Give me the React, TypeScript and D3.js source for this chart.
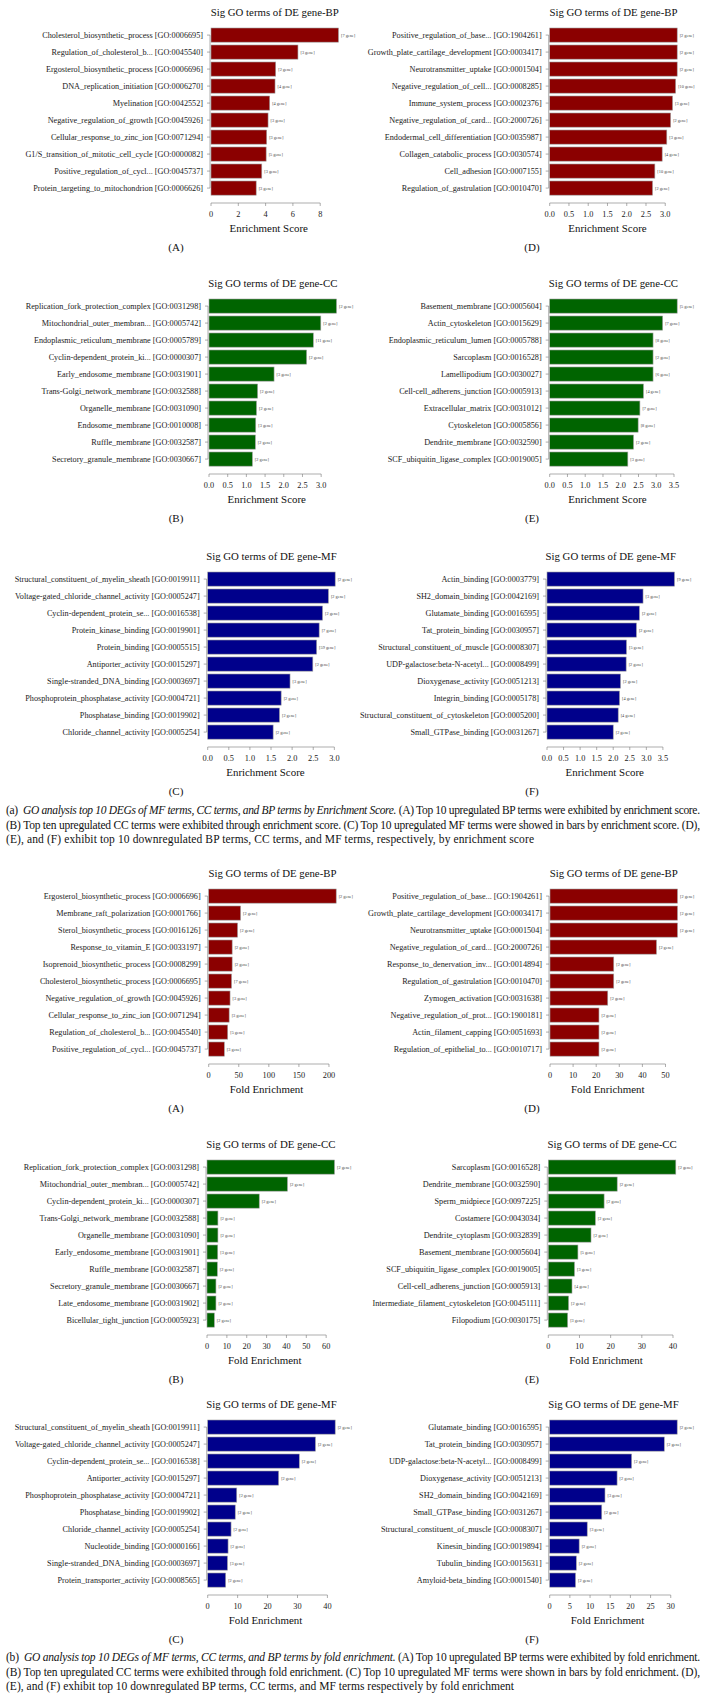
import React, { useEffect, useRef } from 'react';
import * as d3 from 'd3';

// ---- enrichment score, BP up (A) ----
const esBpUpTerms = [
  'Cholesterol_biosynthetic_process [GO:0006695]',
  'Regulation_of_cholesterol_b... [GO:0045540]',
  'Ergosterol_biosynthetic_process [GO:0006696]',
  'DNA_replication_initiation [GO:0006270]',
  'Myelination [GO:0042552]',
  'Negative_regulation_of_growth [GO:0045926]',
  'Cellular_response_to_zinc_ion [GO:0071294]',
  'G1/S_transition_of_mitotic_cell_cycle [GO:0000082]',
  'Positive_regulation_of_cycl... [GO:0045737]',
  'Protein_targeting_to_mitochondrion [GO:0006626]',
];
const esBpUpValues = [9.34, 6.37, 4.74, 4.69, 4.3, 4.18, 4.08, 4.04, 3.72, 3.31];
const esBpUpGenes = [7, 3, 2, 4, 4, 3, 3, 5, 3, 3];
const esBpUpTicks = [0, 2, 4, 6, 8];

// ---- enrichment score, BP down (D) ----
const esBpDownTerms = [
  'Positive_regulation_of_base... [GO:1904261]',
  'Growth_plate_cartilage_development [GO:0003417]',
  'Neurotransmitter_uptake [GO:0001504]',
  'Negative_regulation_of_cell... [GO:0008285]',
  'Immune_system_process [GO:0002376]',
  'Negative_regulation_of_card... [GO:2000726]',
  'Endodermal_cell_differentiation [GO:0035987]',
  'Collagen_catabolic_process [GO:0030574]',
  'Cell_adhesion [GO:0007155]',
  'Regulation_of_gastrulation [GO:0010470]',
];
const esBpDownValues = [3.31, 3.31, 3.31, 3.27, 3.19, 3.14, 3.04, 2.92, 2.73, 2.67];
const esBpDownGenes = [2, 2, 2, 10, 3, 2, 3, 4, 10, 2];
const esBpDownTicks = [0, 0.5, 1, 1.5, 2, 2.5, 3];

// ---- enrichment score, CC up (B) ----
const esCcUpTerms = [
  'Replication_fork_protection_complex [GO:0031298]',
  'Mitochondrial_outer_membran... [GO:0005742]',
  'Endoplasmic_reticulum_membrane [GO:0005789]',
  'Cyclin-dependent_protein_ki... [GO:0000307]',
  'Early_endosome_membrane [GO:0031901]',
  'Trans-Golgi_network_membrane [GO:0032588]',
  'Organelle_membrane [GO:0031090]',
  'Endosome_membrane [GO:0010008]',
  'Ruffle_membrane [GO:0032587]',
  'Secretory_granule_membrane [GO:0030667]',
];
const esCcUpValues = [3.41, 2.99, 2.79, 2.61, 1.74, 1.3, 1.27, 1.25, 1.24, 1.16];
const esCcUpGenes = [2, 2, 11, 2, 3, 2, 2, 3, 2, 2];
const esCcUpTicks = [0, 0.5, 1, 1.5, 2, 2.5, 3];

// ---- enrichment score, CC down (E) ----
const esCcDownTerms = [
  'Basement_membrane [GO:0005604]',
  'Actin_cytoskeleton [GO:0015629]',
  'Endoplasmic_reticulum_lumen [GO:0005788]',
  'Sarcoplasm [GO:0016528]',
  'Lamellipodium [GO:0030027]',
  'Cell-cell_adherens_junction [GO:0005913]',
  'Extracellular_matrix [GO:0031012]',
  'Cytoskeleton [GO:0005856]',
  'Dendrite_membrane [GO:0032590]',
  'SCF_ubiquitin_ligase_complex [GO:0019005]',
];
const esCcDownValues = [3.59, 3.18, 2.91, 2.91, 2.91, 2.64, 2.54, 2.49, 2.36, 2.2];
const esCcDownGenes = [5, 7, 8, 2, 6, 4, 7, 8, 2, 3];
const esCcDownTicks = [0, 0.5, 1, 1.5, 2, 2.5, 3, 3.5];

// ---- enrichment score, MF up (C) ----
const esMfUpTerms = [
  'Structural_constituent_of_myelin_sheath [GO:0019911]',
  'Voltage-gated_chloride_channel_activity [GO:0005247]',
  'Cyclin-dependent_protein_se... [GO:0016538]',
  'Protein_kinase_binding [GO:0019901]',
  'Protein_binding [GO:0005515]',
  'Antiporter_activity [GO:0015297]',
  'Single-stranded_DNA_binding [GO:0003697]',
  'Phosphoprotein_phosphatase_activity [GO:0004721]',
  'Phosphatase_binding [GO:0019902]',
  'Chloride_channel_activity [GO:0005254]',
];
const esMfUpValues = [3.02, 2.86, 2.72, 2.64, 2.58, 2.49, 1.95, 1.74, 1.7, 1.55];
const esMfUpGenes = [2, 2, 2, 7, 59, 2, 3, 2, 2, 2];
const esMfUpTicks = [0, 0.5, 1, 1.5, 2, 2.5, 3];

// ---- enrichment score, MF down (F) ----
const esMfDownTerms = [
  'Actin_binding [GO:0003779]',
  'SH2_domain_binding [GO:0042169]',
  'Glutamate_binding [GO:0016595]',
  'Tat_protein_binding [GO:0030957]',
  'Structural_constituent_of_muscle [GO:0008307]',
  'UDP-galactose:beta-N-acetyl... [GO:0008499]',
  'Dioxygenase_activity [GO:0051213]',
  'Integrin_binding [GO:0005178]',
  'Structural_constituent_of_cytoskeleton [GO:0005200]',
  'Small_GTPase_binding [GO:0031267]',
];
const esMfDownValues = [3.85, 2.9, 2.79, 2.7, 2.4, 2.39, 2.22, 2.19, 2.15, 2.0];
const esMfDownGenes = [9, 3, 2, 2, 5, 2, 2, 4, 4, 2];
const esMfDownTicks = [0, 0.5, 1, 1.5, 2, 2.5, 3, 3.5];

// ---- fold enrichment, BP up (A) ----
const feBpUpTerms = [
  'Ergosterol_biosynthetic_process [GO:0006696]',
  'Membrane_raft_polarization [GO:0001766]',
  'Sterol_biosynthetic_process [GO:0016126]',
  'Response_to_vitamin_E [GO:0033197]',
  'Isoprenoid_biosynthetic_process [GO:0008299]',
  'Cholesterol_biosynthetic_process [GO:0006695]',
  'Negative_regulation_of_growth [GO:0045926]',
  'Cellular_response_to_zinc_ion [GO:0071294]',
  'Regulation_of_cholesterol_b... [GO:0045540]',
  'Positive_regulation_of_cycl... [GO:0045737]',
];
const feBpUpValues = [212, 53, 48, 39, 39, 38, 35.5, 34, 31.6, 26];
const feBpUpGenes = [2, 2, 2, 2, 2, 7, 3, 3, 5, 3];
const feBpUpTicks = [0, 50, 100, 150, 200];

// ---- fold enrichment, BP down (D) ----
const feBpDownTerms = [
  'Positive_regulation_of_base... [GO:1904261]',
  'Growth_plate_cartilage_development [GO:0003417]',
  'Neurotransmitter_uptake [GO:0001504]',
  'Negative_regulation_of_card... [GO:2000726]',
  'Response_to_denervation_inv... [GO:0014894]',
  'Regulation_of_gastrulation [GO:0010470]',
  'Zymogen_activation [GO:0031638]',
  'Negative_regulation_of_prot... [GO:1900181]',
  'Actin_filament_capping [GO:0051693]',
  'Regulation_of_epithelial_to... [GO:0010717]',
];
const feBpDownValues = [55.2, 55.2, 55.2, 46.1, 27.6, 27.6, 25.0, 21.2, 21.2, 21.2];
const feBpDownGenes = [2, 2, 2, 2, 2, 2, 2, 2, 2, 2];
const feBpDownTicks = [0, 10, 20, 30, 40, 50];

// ---- fold enrichment, CC up (B) ----
const feCcUpTerms = [
  'Replication_fork_protection_complex [GO:0031298]',
  'Mitochondrial_outer_membran... [GO:0005742]',
  'Cyclin-dependent_protein_ki... [GO:0000307]',
  'Trans-Golgi_network_membrane [GO:0032588]',
  'Organelle_membrane [GO:0031090]',
  'Early_endosome_membrane [GO:0031901]',
  'Ruffle_membrane [GO:0032587]',
  'Secretory_granule_membrane [GO:0030667]',
  'Late_endosome_membrane [GO:0031902]',
  'Bicellular_tight_junction [GO:0005923]',
];
const feCcUpValues = [64.2, 40.5, 26.3, 5.5, 5.5, 5.4, 5.2, 4.5, 4.5, 3.7];
const feCcUpGenes = [2, 2, 2, 2, 2, 3, 2, 2, 2, 2];
const feCcUpTicks = [0, 10, 20, 30, 40, 50, 60];

// ---- fold enrichment, CC down (E) ----
const feCcDownTerms = [
  'Sarcoplasm [GO:0016528]',
  'Dendrite_membrane [GO:0032590]',
  'Sperm_midpiece [GO:0097225]',
  'Costamere [GO:0043034]',
  'Dendrite_cytoplasm [GO:0032839]',
  'Basement_membrane [GO:0005604]',
  'SCF_ubiquitin_ligase_complex [GO:0019005]',
  'Cell-cell_adherens_junction [GO:0005913]',
  'Intermediate_filament_cytoskeleton [GO:0045111]',
  'Filopodium [GO:0030175]',
];
const feCcDownValues = [40.9, 22.1, 17.9, 15.1, 13.7, 9.5, 8.4, 7.6, 6.5, 6.2];
const feCcDownGenes = [2, 2, 2, 2, 2, 5, 3, 4, 2, 3];
const feCcDownTicks = [0, 10, 20, 30, 40];

// ---- fold enrichment, MF up (C) ----
const feMfUpTerms = [
  'Structural_constituent_of_myelin_sheath [GO:0019911]',
  'Voltage-gated_chloride_channel_activity [GO:0005247]',
  'Cyclin-dependent_protein_se... [GO:0016538]',
  'Antiporter_activity [GO:0015297]',
  'Phosphoprotein_phosphatase_activity [GO:0004721]',
  'Phosphatase_binding [GO:0019902]',
  'Chloride_channel_activity [GO:0005254]',
  'Nucleotide_binding [GO:0000166]',
  'Single-stranded_DNA_binding [GO:0003697]',
  'Protein_transporter_activity [GO:0008565]',
];
const feMfUpValues = [42.6, 36.0, 30.6, 23.7, 9.7, 9.2, 7.8, 6.8, 6.6, 6.0];
const feMfUpGenes = [2, 2, 2, 2, 2, 2, 2, 2, 3, 2];
const feMfUpTicks = [0, 10, 20, 30, 40];

// ---- fold enrichment, MF down (F) ----
const feMfDownTerms = [
  'Glutamate_binding [GO:0016595]',
  'Tat_protein_binding [GO:0030957]',
  'UDP-galactose:beta-N-acetyl... [GO:0008499]',
  'Dioxygenase_activity [GO:0051213]',
  'SH2_domain_binding [GO:0042169]',
  'Small_GTPase_binding [GO:0031267]',
  'Structural_constituent_of_muscle [GO:0008307]',
  'Kinesin_binding [GO:0019894]',
  'Tubulin_binding [GO:0015631]',
  'Amyloid-beta_binding [GO:0001540]',
];
const feMfDownValues = [31.6, 28.4, 20.3, 16.7, 13.7, 12.9, 9.3, 7.3, 6.6, 6.4];
const feMfDownGenes = [2, 2, 2, 2, 3, 2, 3, 2, 2, 2];
const feMfDownTicks = [0, 5, 10, 15, 20, 25, 30];

const W = 705;
const H = 1706;
const FONT = "'Liberation Serif', 'Times New Roman', serif";
const PLOT_W = 127.5;
const PITCH = 17;
const RED = '#8b0000';
const GREEN = '#006400';
const BLUE = '#00008b';
const LEFT_MID = 176;
const RIGHT_MID = 532;

const panels = [
  { type: 'BP', color: RED, terms: esBpUpTerms, values: esBpUpValues, genes: esBpUpGenes, ticks: esBpUpTicks, fmt: 'd', axisTitle: 'Enrichment Score', letter: '(A)', x0: 211, top: 28, mid: LEFT_MID },
  { type: 'BP', color: RED, terms: esBpDownTerms, values: esBpDownValues, genes: esBpDownGenes, ticks: esBpDownTicks, fmt: '.1f', axisTitle: 'Enrichment Score', letter: '(D)', x0: 549.7, top: 28, mid: RIGHT_MID },
  { type: 'CC', color: GREEN, terms: esCcUpTerms, values: esCcUpValues, genes: esCcUpGenes, ticks: esCcUpTicks, fmt: '.1f', axisTitle: 'Enrichment Score', letter: '(B)', x0: 209, top: 299, mid: LEFT_MID },
  { type: 'CC', color: GREEN, terms: esCcDownTerms, values: esCcDownValues, genes: esCcDownGenes, ticks: esCcDownTicks, fmt: '.1f', axisTitle: 'Enrichment Score', letter: '(E)', x0: 549.7, top: 299, mid: RIGHT_MID },
  { type: 'MF', color: BLUE, terms: esMfUpTerms, values: esMfUpValues, genes: esMfUpGenes, ticks: esMfUpTicks, fmt: '.1f', axisTitle: 'Enrichment Score', letter: '(C)', x0: 207.7, top: 572, mid: LEFT_MID },
  { type: 'MF', color: BLUE, terms: esMfDownTerms, values: esMfDownValues, genes: esMfDownGenes, ticks: esMfDownTicks, fmt: '.1f', axisTitle: 'Enrichment Score', letter: '(F)', x0: 547, top: 572, mid: RIGHT_MID },
  { type: 'BP', color: RED, terms: feBpUpTerms, values: feBpUpValues, genes: feBpUpGenes, ticks: feBpUpTicks, fmt: 'd', axisTitle: 'Fold Enrichment', letter: '(A)', x0: 208.7, top: 889, mid: LEFT_MID },
  { type: 'BP', color: RED, terms: feBpDownTerms, values: feBpDownValues, genes: feBpDownGenes, ticks: feBpDownTicks, fmt: 'd', axisTitle: 'Fold Enrichment', letter: '(D)', x0: 550, top: 889, mid: RIGHT_MID },
  { type: 'CC', color: GREEN, terms: feCcUpTerms, values: feCcUpValues, genes: feCcUpGenes, ticks: feCcUpTicks, fmt: 'd', axisTitle: 'Fold Enrichment', letter: '(B)', x0: 207, top: 1160, mid: LEFT_MID },
  { type: 'CC', color: GREEN, terms: feCcDownTerms, values: feCcDownValues, genes: feCcDownGenes, ticks: feCcDownTicks, fmt: 'd', axisTitle: 'Fold Enrichment', letter: '(E)', x0: 548.3, top: 1160, mid: RIGHT_MID },
  { type: 'MF', color: BLUE, terms: feMfUpTerms, values: feMfUpValues, genes: feMfUpGenes, ticks: feMfUpTicks, fmt: 'd', axisTitle: 'Fold Enrichment', letter: '(C)', x0: 207.7, top: 1420, mid: LEFT_MID },
  { type: 'MF', color: BLUE, terms: feMfDownTerms, values: feMfDownValues, genes: feMfDownGenes, ticks: feMfDownTicks, fmt: 'd', axisTitle: 'Fold Enrichment', letter: '(F)', x0: 549.7, top: 1420, mid: RIGHT_MID },
];

// caption lines: [plain prefix, italic part, plain rest]
const captionA = [
  ['(a)  ', 'GO analysis top 10 DEGs of MF terms, CC terms, and BP terms by Enrichment Score.', ' (A) Top 10 upregulated BP terms were exhibited by enrichment score.'],
  ['', '', '(B) Top ten upregulated CC terms were exhibited through enrichment score. (C) Top 10 upregulated MF terms were showed in bars by enrichment score. (D),'],
  ['', '', '(E), and (F) exhibit top 10 downregulated BP terms, CC terms, and MF terms, respectively, by enrichment score'],
];
const captionB = [
  ['(b)  ', 'GO analysis top 10 DEGs of MF terms, CC terms, and BP terms by fold enrichment.', ' (A) Top 10 upregulated BP terms were exhibited by fold enrichment.'],
  ['', '', '(B) Top ten upregulated CC terms were exhibited through fold enrichment. (C) Top 10 upregulated MF terms were shown in bars by fold enrichment. (D),'],
  ['', '', '(E), and (F) exhibit top 10 downregulated BP terms, CC terms, and MF terms respectively by fold enrichment'],
];

function drawPanel(svg: any, p: any) {
  const g = svg.append('g').style('font-family', FONT);
  const x = d3.scaleLinear().domain([0, d3.max(p.values) as number]).range([p.x0, p.x0 + PLOT_W]);
  const gap = PITCH / 6;
  const y = d3.scaleBand()
    .domain(p.terms)
    .range([p.top, p.top + p.terms.length * PITCH - gap])
    .paddingInner(1 / 6)
    .paddingOuter(0);
  const rows = p.terms.map((t: string, i: number) => ({ term: t, value: p.values[i], genes: p.genes[i] }));
  const axisY = p.top + 175;
  const cx = p.x0 + PLOT_W / 2;
  const mid = (d: any) => (y(d.term) as number) + y.bandwidth() / 2;

  // title
  g.append('text')
    .attr('x', cx)
    .attr('y', p.top - 12)
    .attr('text-anchor', 'middle')
    .attr('font-size', 10.8)
    .attr('fill', '#111')
    .text(`Sig GO terms of DE gene-${p.type}`);

  // bars
  g.selectAll('rect.bar').data(rows).join('rect')
    .attr('class', 'bar')
    .attr('x', x(0))
    .attr('y', (d: any) => y(d.term))
    .attr('width', (d: any) => x(d.value) - x(0))
    .attr('height', y.bandwidth())
    .attr('fill', p.color)
    .attr('stroke', '#a0a0a0')
    .attr('stroke-width', 0.6);

  // gene counts
  g.selectAll('text.gene').data(rows).join('text')
    .attr('class', 'gene')
    .attr('x', (d: any) => x(d.value) + 2.5)
    .attr('y', (d: any) => mid(d) + 1.5)
    .attr('font-size', 4.3)
    .attr('fill', '#444')
    .text((d: any) => `[${d.genes} gene]`);

  // y axis
  g.append('line')
    .attr('x1', p.x0 - 1).attr('x2', p.x0 - 1)
    .attr('y1', mid(rows[0])).attr('y2', mid(rows[rows.length - 1]))
    .attr('stroke', '#777').attr('stroke-width', 0.6);
  g.selectAll('line.ytick').data(rows).join('line')
    .attr('class', 'ytick')
    .attr('x1', p.x0 - 4).attr('x2', p.x0 - 1)
    .attr('y1', mid).attr('y2', mid)
    .attr('stroke', '#777').attr('stroke-width', 0.6);
  g.selectAll('text.ylab').data(rows).join('text')
    .attr('class', 'ylab')
    .attr('x', p.x0 - 8)
    .attr('y', (d: any) => mid(d) + 2.8)
    .attr('text-anchor', 'end')
    .attr('font-size', 8.2)
    .attr('fill', '#1a1a1a')
    .text((d: any) => d.term);

  // x axis (R style: line spans first to last tick)
  const ticks = p.ticks;
  const fmt = d3.format(p.fmt);
  g.append('line')
    .attr('x1', x(ticks[0])).attr('x2', x(ticks[ticks.length - 1]))
    .attr('y1', axisY).attr('y2', axisY)
    .attr('stroke', '#777').attr('stroke-width', 0.6);
  g.selectAll('line.xtick').data(ticks).join('line')
    .attr('class', 'xtick')
    .attr('x1', (d: number) => x(d)).attr('x2', (d: number) => x(d))
    .attr('y1', axisY).attr('y2', axisY + 3)
    .attr('stroke', '#777').attr('stroke-width', 0.6);
  g.selectAll('text.xlab').data(ticks).join('text')
    .attr('class', 'xlab')
    .attr('x', (d: number) => x(d))
    .attr('y', axisY + 14)
    .attr('text-anchor', 'middle')
    .attr('font-size', 8.3)
    .attr('fill', '#1a1a1a')
    .text((d: number) => fmt(d));

  // axis title
  g.append('text')
    .attr('x', cx - 6)
    .attr('y', axisY + 29)
    .attr('text-anchor', 'middle')
    .attr('font-size', 10.9)
    .attr('fill', '#111')
    .text(p.axisTitle);

  // panel letter
  g.append('text')
    .attr('x', p.mid)
    .attr('y', axisY + 48)
    .attr('text-anchor', 'middle')
    .attr('font-size', 11)
    .attr('fill', '#111')
    .text(p.letter);
}

function drawCaption(svg: any, lines: string[][], baseY: number, lastLen: number) {
  const g = svg.append('g').style('font-family', FONT).attr('font-size', 11.5).attr('fill', '#111');
  lines.forEach((ln, i) => {
    const t = g.append('text').attr('x', 6).attr('y', baseY + i * 14.5)
      .attr('textLength', i < 2 ? 694 : lastLen)
      .attr('lengthAdjust', 'spacing');
    if (ln[0]) t.append('tspan').text(ln[0]).attr('xml:space', 'preserve');
    if (ln[1]) t.append('tspan').attr('font-style', 'italic').text(ln[1]);
    t.append('tspan').text(ln[2]);
  });
}

export default function App() {
  const ref = useRef<SVGSVGElement>(null);

  useEffect(() => {
    document.body.style.margin = '0';
    const svg = d3.select(ref.current);
    svg.selectAll('*').remove();
    svg.append('rect').attr('width', W).attr('height', H).attr('fill', '#fff');
    panels.forEach(p => drawPanel(svg, p));
    drawCaption(svg, captionA, 814, 528);
    drawCaption(svg, captionB, 1661, 508);
  }, []);

  return <svg ref={ref} width={W} height={H} style={{ display: 'block', fontFamily: FONT }} />;
}
